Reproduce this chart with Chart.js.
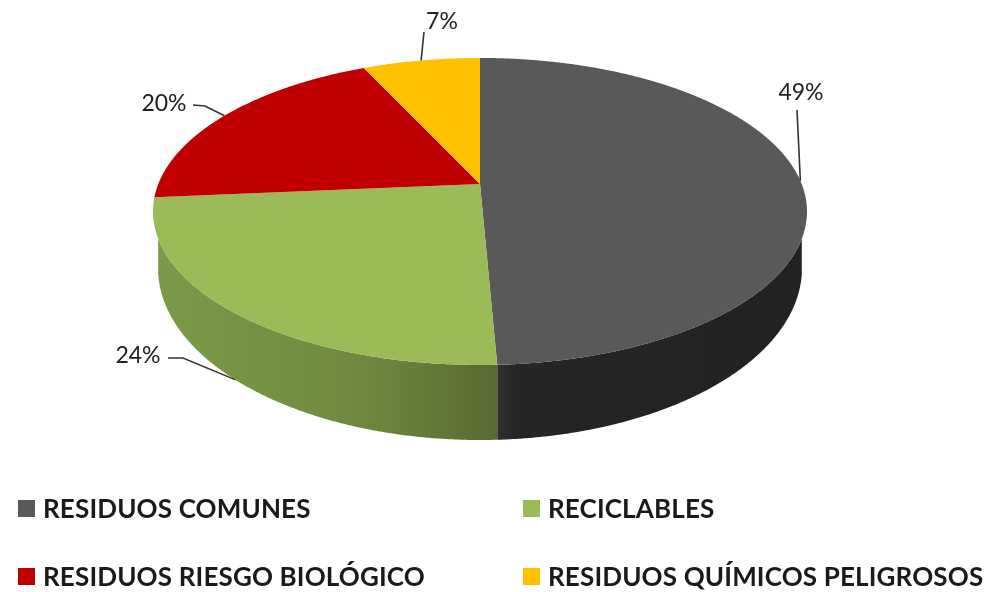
<!DOCTYPE html>
<html>
<head>
<meta charset="utf-8">
<style>
  html, body { margin: 0; padding: 0; background: #fff; }
  #wrap { position: relative; width: 992px; height: 592px; overflow: hidden; filter: blur(0.6px); }
  canvas { position: absolute; left: 0; top: 0; }
  .legend-item { position: absolute; font: bold 26px Lato, sans-serif; letter-spacing: 0.15px; color: #1a1a1a; white-space: nowrap; line-height: 30px; }
  .legend-box { position: absolute; width: 17px; height: 17px; }
</style>
</head>
<body>
<div id="wrap">
  <canvas id="chart" width="992" height="592"></canvas>
</div>
<script src="https://cdn.jsdelivr.net/npm/chart.js@4"></script>
<script>
const categories = ['RESIDUOS COMUNES', 'RECICLABLES', 'RESIDUOS RIESGO BIOLÓGICO', 'RESIDUOS QUÍMICOS PELIGROSOS'];
const values = [49.3, 24.3, 19.5, 6.9];
const colors = ['#595959', '#9BBB59', '#C00000', '#FFC000'];

// side wall shading per slice, left to right across the picture
const sideStops = [
  [[0, '#2f2f2f'], [0.06, '#252525'], [1, '#222222']],
  [[0, '#7b9a49'], [0.55, '#708b40'], [0.8, '#647a39'], [1, '#586a31']],
  [[0, '#8a0000'], [1, '#8a0000']],
  [[0, '#b88a00'], [1, '#b88a00']]
];

// where each percent label sits, and whether its leader ends on the bottom rim
const labelBoxes = [
  { x: 801, y: 93, elbow: [797, 110], lower: false },
  { x: 138, y: 356, elbow: [168, 358], mid: [183, 358], lower: true },
  { x: 164, y: 104, elbow: [193, 105], mid: [205, 106], lower: false },
  { x: 442, y: 22, elbow: [424, 32], lower: false }
];

const legendSpots = [[18, 500], [523, 500], [18, 568], [523, 568]];

// camera for the tilted disc: apex of the slices, radius, tilt and perspective
const view = { cx: 480, cy: 184, a: 321.7, b: 148.6, k: 0.179 };
// lower rim of the wall
const rim = { rx: 322, cy: 268, ry: 172 };

function project(angle) {
  const t = angle + Math.PI / 2;
  const u = Math.sin(t);
  const v = -Math.cos(t);
  const w = 1 - view.k * v;
  return { x: view.cx + view.a * u / w, y: view.cy + view.b * v / w, v };
}

function rimY(x) {
  const d = (x - view.cx) / rim.rx;
  return rim.cy + rim.ry * Math.sqrt(Math.max(0, 1 - d * d));
}

function sample(start, end) {
  const pts = [];
  const n = Math.max(2, Math.ceil((end - start) / 0.005));
  for (let i = 0; i <= n; i++) pts.push(project(start + (end - start) * i / n));
  return pts;
}

const tiltedPie = {
  id: 'tiltedPie',
  beforeDatasetDraw(chart, args) {
    const ctx = chart.ctx;
    const arcs = chart.getDatasetMeta(args.index).data;

    // walls first
    arcs.forEach((arc, i) => {
      const pts = sample(arc.startAngle, arc.endAngle)
        .filter(p => p.v >= view.k && Math.abs(p.x - view.cx) <= rim.rx);
      if (pts.length < 2) return;
      const xs = pts.map(p => p.x);
      const left = Math.min(...xs), right = Math.max(...xs);
      const grad = ctx.createLinearGradient(left, 0, right, 0);
      sideStops[i].forEach(s => grad.addColorStop(s[0], s[1]));
      ctx.beginPath();
      pts.forEach((p, j) => j ? ctx.lineTo(p.x, p.y) : ctx.moveTo(p.x, p.y));
      pts.slice().reverse().forEach(p => ctx.lineTo(p.x, rimY(p.x)));
      ctx.closePath();
      ctx.fillStyle = grad;
      ctx.fill();
    });

    // top face
    arcs.forEach((arc, i) => {
      ctx.beginPath();
      ctx.moveTo(view.cx, view.cy);
      sample(arc.startAngle, arc.endAngle).forEach(p => ctx.lineTo(p.x, p.y));
      ctx.closePath();
      ctx.fillStyle = colors[i];
      ctx.fill();
    });
    return false; // the default flat arcs are not wanted
  },
  afterDatasetsDraw(chart) {
    const ctx = chart.ctx;
    const arcs = chart.getDatasetMeta(0).data;
    ctx.save();
    arcs.forEach((arc, i) => {
      const box = labelBoxes[i];
      const p = project((arc.startAngle + arc.endAngle) / 2);
      const endY = box.lower ? rimY(p.x) : p.y;
      ctx.beginPath();
      ctx.moveTo(box.elbow[0], box.elbow[1]);
      if (box.mid) ctx.lineTo(box.mid[0], box.mid[1]);
      ctx.lineTo(p.x, endY);
      ctx.strokeStyle = '#333';
      ctx.lineWidth = 1.6;
      ctx.stroke();

      ctx.fillStyle = '#222';
      ctx.font = '23px Lato, sans-serif';
      ctx.textAlign = 'center';
      ctx.textBaseline = 'middle';
      ctx.fillText(Math.round(values[i]) + '%', box.x, box.y);
    });
    ctx.restore();
  }
};

new Chart(document.getElementById('chart'), {
  type: 'pie',
  data: {
    labels: categories,
    datasets: [{ data: values, backgroundColor: colors, borderWidth: 0 }]
  },
  options: {
    responsive: false,
    animation: false,
    plugins: {
      legend: { display: false },
      tooltip: { enabled: false }
    }
  },
  plugins: [tiltedPie]
});

// legend sits in two fixed columns, which the built in one cannot do
const wrap = document.getElementById('wrap');
categories.forEach((name, i) => {
  const box = document.createElement('div');
  box.className = 'legend-box';
  box.style.left = legendSpots[i][0] + 'px';
  box.style.top = legendSpots[i][1] + 'px';
  box.style.background = colors[i];
  wrap.appendChild(box);

  const text = document.createElement('div');
  text.className = 'legend-item';
  text.style.left = legendSpots[i][0] + 25 + 'px';
  text.style.top = legendSpots[i][1] - 7 + 'px';
  text.textContent = name;
  wrap.appendChild(text);
});
</script>
</body>
</html>
